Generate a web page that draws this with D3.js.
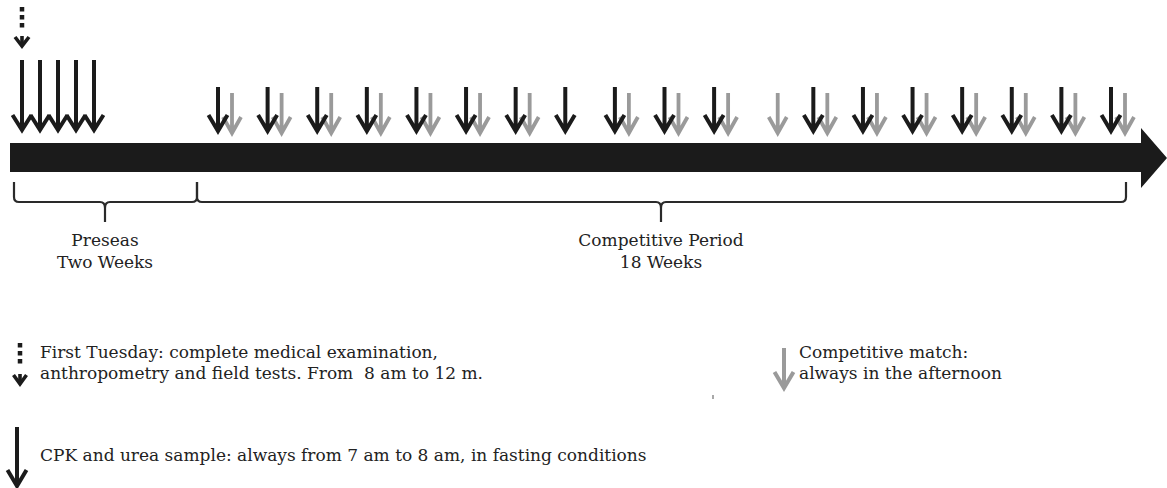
<!DOCTYPE html>
<html><head><meta charset="utf-8">
<script src="https://cdn.jsdelivr.net/npm/d3@7"></script>
<style>html,body{margin:0;padding:0;background:#fff;}svg{display:block;}text{white-space:pre;}</style>
</head><body>
<script>
// ---- data ----
const preseasonSamples = [1, 2, 3, 4, 5];                       // CPK samples, preseason (days)
const cpkWeeks   = [1,2,3,4,5,6,7,8,9,10,11,13,14,15,16,17,18,19]; // CPK & urea samples (competitive weeks)
const matchWeeks = [1,2,3,4,5,6,7,9,10,11,12,13,14,15,16,17,18,19]; // competitive matches
const periodNames  = ["Preseas", "Competitive Period"];
const periodLength = ["Two Weeks", "18 Weeks"];
const legendTexts = [
  ["First Tuesday: complete medical examination,", "anthropometry and field tests. From  8 am to 12 m."],
  ["Competitive match:", "always in the afternoon"],
  ["CPK and urea sample: always from 7 am to 8 am, in fasting conditions"]
];

// ---- layout ----
const W = 1167, H = 488;
const BLACK = "#1b1b1b", GRAY = "#9a9a9a", BRACE = "#2a2a2a";
const FONT = "DejaVu Serif";
const FS = 17;

const svg = d3.select("body").append("svg").attr("width", W).attr("height", H);

const xPre  = d3.scaleLinear().domain([1, 5]).range([22, 94]);
const xWeek = d3.scaleLinear().domain([1, 19]).range([218, 1111]);
const matchOffset = 14;

function arrow(g, x, y0, y1, color, hw, hh, sw) {
  g.append("path")
    .attr("d", `M${x},${y0}L${x},${y1-2}M${x-hw},${y1-hh}L${x},${y1-1}L${x+hw},${y1-hh}`)
    .attr("fill", "none").attr("stroke", color).attr("stroke-width", sw)
    .attr("stroke-linejoin", "miter").attr("stroke-miterlimit", 10);
}
function dashedArrow(g, x, y0, y1, hw, hh) {
  const dashes = 3, size = 4.5, gap = 3.5;
  for (let i = 0; i < dashes; i++) {
    g.append("rect").attr("x", x - size/2).attr("y", y0 + i*(size+gap))
      .attr("width", size).attr("height", size).attr("fill", BLACK);
  }
  g.append("path")
    .attr("d", `M${x-hw},${y1-hh}L${x},${y1-1}L${x+hw},${y1-hh}`)
    .attr("fill", "none").attr("stroke", BLACK).attr("stroke-width", 3.6)
    .attr("stroke-linejoin", "miter").attr("stroke-miterlimit", 10);
  g.append("path")
    .attr("d", `M${x},${y1-hh-1}L${x},${y1-2}`)
    .attr("stroke", BLACK).attr("stroke-width", 3.6);
}

const marks = svg.append("g");

// first tuesday marker
dashedArrow(marks, xPre(preseasonSamples[0]), 7, 47, 7, 10);

// preseason samples
preseasonSamples.forEach(d => arrow(marks, xPre(d), 60, 131, BLACK, 9.5, 16, 4));
// matches (gray) drawn first, then samples on top
matchWeeks.forEach(d => arrow(marks, xWeek(d) + matchOffset, 93, 134, GRAY, 9, 17, 3.8));
cpkWeeks.forEach(d => arrow(marks, xWeek(d), 87, 132, BLACK, 9.5, 17, 4));

// main timeline bar
svg.append("path")
  .attr("d", "M10,143L1141,143L1141,128L1167,158L1141,188L1141,172L10,172Z")
  .attr("fill", BLACK);

// braces
const braceTop = 182, braceY = 202, braceTip = 222;
const braces = [[14, 197, 105], [197, 1126, 661]];
braces.forEach(([a, b, m], i) => {
  const p = `M${a},${braceTop}L${a},${braceY-5}Q${a},${braceY} ${a+5},${braceY}`
    + `L${m-5},${braceY}Q${m},${braceY} ${m},${braceY+6}L${m},${braceTip}`
    + `M${m},${braceY+6}Q${m},${braceY} ${m+5},${braceY}`
    + `L${b-5},${braceY}Q${b},${braceY} ${b},${braceY-5}L${b},${braceTop}`;
  svg.append("path").attr("d", p).attr("fill", "none")
    .attr("stroke", BRACE).attr("stroke-width", 2.2);
  svg.append("text").attr("x", m).attr("y", 246).attr("text-anchor", "middle")
    .attr("font-family", FONT).attr("font-size", FS).attr("fill", "#222")
    .text(periodNames[i]);
  svg.append("text").attr("x", m).attr("y", 268).attr("text-anchor", "middle")
    .attr("font-family", FONT).attr("font-size", FS).attr("fill", "#222")
    .text(periodLength[i]);
});

// legend
const leg = svg.append("g");
dashedArrow(leg, 20, 343, 385, 6.5, 10);
arrow(leg, 784, 348, 389, GRAY, 9.5, 17, 4);
arrow(leg, 17, 427, 487, BLACK, 9.5, 17, 4);
const legPos = [[40, 358], [799, 358], [40, 461]];
legendTexts.forEach((lines, i) => {
  lines.forEach((t, j) => {
    leg.append("text").attr("x", legPos[i][0]).attr("y", legPos[i][1] + j*21)
      .attr("font-family", FONT).attr("font-size", FS).attr("fill", "#222").text(t);
  });
});
// tiny stray mark
leg.append("rect").attr("x", 712.5).attr("y", 395).attr("width", 1).attr("height", 4).attr("fill", "#555");
</script>
</body></html>
